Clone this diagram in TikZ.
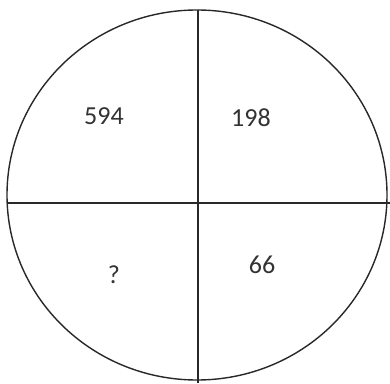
\documentclass[tikz,border=0pt]{standalone}
\usepackage{fontspec}
\setmainfont{Carlito}
\definecolor{txt}{HTML}{333333}
\definecolor{ln}{HTML}{282828}
\begin{document}
\begin{tikzpicture}[x=1pt,y=1pt,
  lbl/.style={text=txt,font=\fontsize{26}{30}\selectfont,inner sep=0pt},
  edge/.style={draw=ln,line width=1.4pt}]
\useasboundingbox (0,0) rectangle (390,383);
\fill[white] (0,0) rectangle (390,383);
\draw[edge] (197,188) ellipse [x radius=190,y radius=185];
\coordinate (hl) at (7,180);
\coordinate (hr) at (390,180);
\coordinate (vt) at (198,373);
\coordinate (vb) at (198,0);
\draw[edge] (hl) -- (hr);
\draw[edge] (vt) -- (vb);
\node[lbl] (a) at (104,267) {594};
\node[lbl] (b) at (251,265) {198};
\node[lbl] (c) at (114,108) {?};
\node[lbl] (d) at (262,118) {66};
\end{tikzpicture}
\end{document}
